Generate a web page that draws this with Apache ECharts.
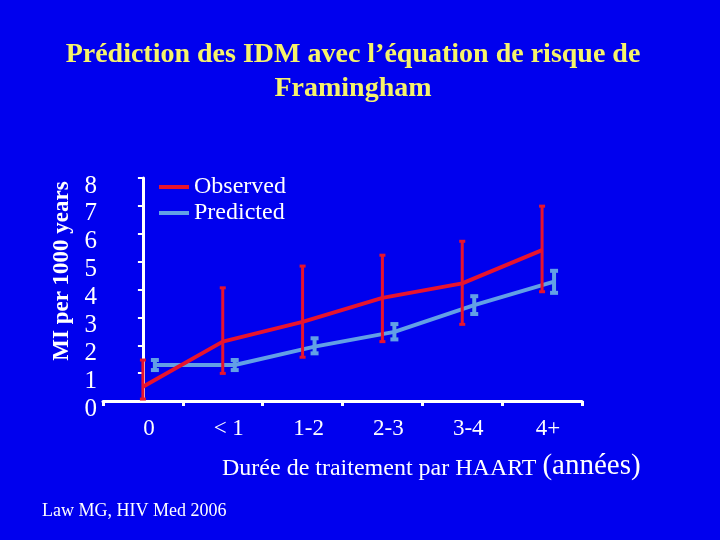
<!DOCTYPE html>
<html>
<head>
<meta charset="utf-8">
<script src="https://cdn.jsdelivr.net/npm/echarts@6/dist/echarts.min.js"></script>
<style>
  html, body { margin: 0; padding: 0; background: #0000EE; }
  #chart { width: 720px; height: 540px; }
</style>
</head>
<body>
<div id="chart"></div>
<script>
var categories = ['0', '< 1', '1-2', '2-3', '3-4', '4+'];
var yTicks = [0, 1, 2, 3, 4, 5, 6, 7, 8];

var observed = [0.51, 2.13, 2.84, 3.70, 4.22, 5.41];
var observedLow = [0.07, 0.99, 1.57, 2.13, 2.75, 3.92];
var observedHigh = [1.47, 4.06, 4.84, 5.23, 5.73, 6.99];

var predicted = [1.29, 1.29, 1.95, 2.48, 3.44, 4.28];
var predictedLow = [1.11, 1.11, 1.71, 2.21, 3.12, 3.88];
var predictedHigh = [1.47, 1.47, 2.25, 2.76, 3.76, 4.67];

// predicted points sit a little to the right of each category centre
var predShift = 0.15;

var RED = '#E8132D';
var BLUE = '#62A0E6';
var SERIF = '"Liberation Serif", "Times New Roman", serif';

(function(){
	var myChart = echarts.init(document.getElementById('chart'));

	var predLine = predicted.map(function(v, i){ return [i + predShift, v]; });
	var obsBars = observed.map(function(v, i){ return [i, observedLow[i], observedHigh[i]]; });
	var predBars = predicted.map(function(v, i){ return [i + predShift, predictedLow[i], predictedHigh[i]]; });

	function errorBar(color, capHalf, width) {
		return function(params, api){
			var lo = api.coord([api.value(0), api.value(1)]);
			var hi = api.coord([api.value(0), api.value(2)]);
			var st = { stroke: color, lineWidth: width };
			return {
				type: 'group',
				children: [
					{ type: 'line', shape: { x1: lo[0], y1: lo[1], x2: hi[0], y2: hi[1] }, style: st },
					{ type: 'line', shape: { x1: lo[0] - capHalf, y1: lo[1], x2: lo[0] + capHalf, y2: lo[1] }, style: st },
					{ type: 'line', shape: { x1: hi[0] - capHalf, y1: hi[1], x2: hi[0] + capHalf, y2: hi[1] }, style: st }
				]
			};
		};
	}

	var option = {
		backgroundColor: '#0000EE',
		animation: false,
		title: {
			text: 'Prédiction des IDM avec l’équation de risque de\nFramingham',
			left: 348,
			top: 33,
			textAlign: 'center',
			textStyle: {
				color: '#F6F36A',
				fontFamily: SERIF,
				fontWeight: 'bold',
				fontSize: 28,
				lineHeight: 34
			}
		},
		legend: {
			orient: 'vertical',
			left: 154,
			top: 170,
			itemWidth: 30,
			itemHeight: 4,
			itemGap: 2,
			icon: 'rect',
			data: ['Observed', 'Predicted'],
			textStyle: { color: '#FFFFFF', fontFamily: SERIF, fontSize: 24, padding: [6, 0, 0, 0] }
		},
		grid: {
			left: 103,
			right: 138,
			top: 178,
			bottom: 139
		},
		xAxis: [
			{
				type: 'category',
				data: categories,
				boundaryGap: true,
				axisLine: { lineStyle: { color: '#FFFFFF', width: 3 } },
				axisTick: { show: true, length: 5, lineStyle: { color: '#FFFFFF', width: 3 } },
				axisLabel: {
					color: '#FFFFFF',
					fontFamily: SERIF,
					fontSize: 23,
					margin: 16,
					padding: [0, 0, 0, 12]
				},
				splitLine: { show: false }
			},
			{
				type: 'value',
				min: -0.5,
				max: 5.5,
				show: false
			}
		],
		yAxis: {
			type: 'value',
			min: 0,
			max: 8,
			interval: 1,
			axisLine: { show: true, lineStyle: { color: '#FFFFFF', width: 3 } },
			axisTick: { show: true, length: 5, lineStyle: { color: '#FFFFFF', width: 2 } },
			axisLabel: {
				color: '#FFFFFF',
				fontFamily: SERIF,
				fontSize: 25,
				margin: 6,
				verticalAlign: 'top',
				lineHeight: 16,
				formatter: function(v){ return yTicks.indexOf(v) >= 0 ? String(v) : ''; }
			},
			splitLine: { show: false }
		},
		series: [
			{
				name: 'Predicted',
				type: 'line',
				xAxisIndex: 1,
				data: predLine,
				symbol: 'none',
				color: BLUE,
				lineStyle: { color: BLUE, width: 4 },
				z: 2
			},
			{
				type: 'custom',
				xAxisIndex: 1,
				data: predBars,
				renderItem: errorBar(BLUE, 4, 4),
				z: 2
			},
			{
				name: 'Observed',
				type: 'line',
				xAxisIndex: 0,
				data: observed,
				symbol: 'none',
				color: RED,
				lineStyle: { color: RED, width: 4 },
				z: 3
			},
			{
				type: 'custom',
				xAxisIndex: 0,
				data: obsBars,
				renderItem: errorBar(RED, 3, 3),
				z: 3
			}
		],
		graphic: [
			{
				type: 'text',
				x: 62,
				y: 271,
				rotation: Math.PI / 2,
				style: {
					text: 'MI per 1000 years',
					fill: '#FFFFFF',
					fontFamily: SERIF,
					fontWeight: 'bold',
					fontSize: 23,
					align: 'center',
					verticalAlign: 'middle'
				}
			},
			{
				type: 'text',
				left: 222,
				top: 452,
				style: {
					text: '{a|Durée de traitement par HAART }{b|(années)}',
					fill: '#FFFFFF',
					rich: {
						a: { fontFamily: SERIF, fontSize: 24, fill: '#FFFFFF', verticalAlign: 'bottom' },
						b: { fontFamily: SERIF, fontSize: 29, fill: '#FFFFFF', verticalAlign: 'bottom' }
					}
				}
			},
			{
				type: 'text',
				left: 42,
				top: 502,
				style: {
					text: 'Law MG, HIV Med 2006',
					fill: '#FFFFFF',
					fontFamily: SERIF,
					fontSize: 18
				}
			}
		]
	};

	myChart.setOption(option);
	window.onresize = myChart.resize;
})();
</script>
</body>
</html>
